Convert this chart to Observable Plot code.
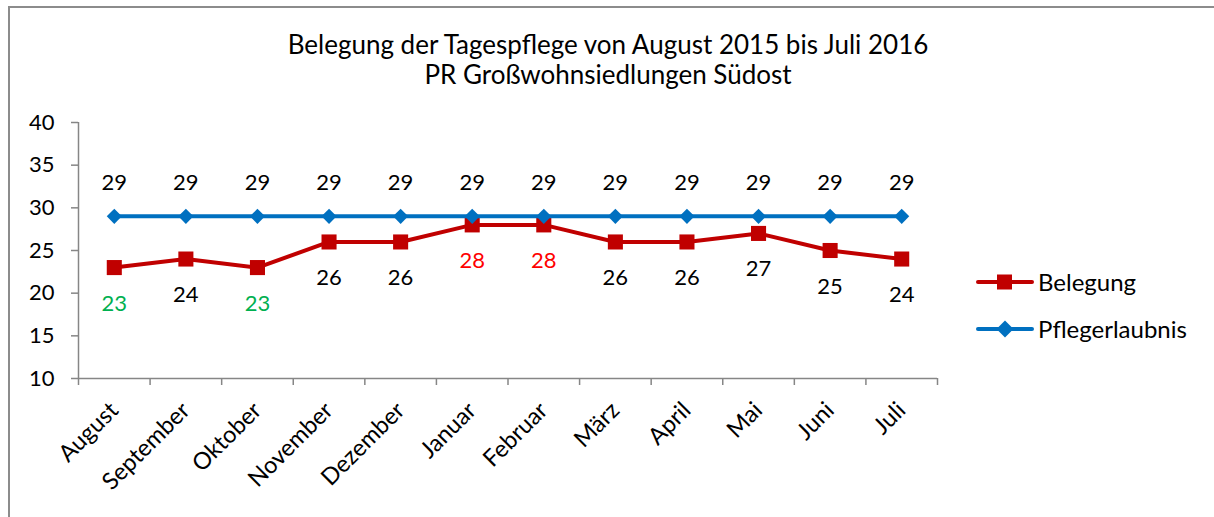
<!DOCTYPE html>
<html><head><meta charset="utf-8">
<script src="https://cdn.jsdelivr.net/npm/d3@7"></script>
<script src="https://cdn.jsdelivr.net/npm/@observablehq/plot@0.6"></script>
<style>
  html,body{margin:0;padding:0;background:#fff;}
  #wrap{position:relative;width:1214px;height:517px;overflow:hidden;font-family:Lato,"Open Sans",sans-serif;}
  #frame{position:absolute;left:8px;top:6px;width:1300px;height:600px;border:2px solid #8c8c8c;box-sizing:border-box;}
  .title{position:absolute;left:0;width:1216px;text-align:center;font-size:26px;line-height:30px;height:30px;color:#000;}
  #chart{position:absolute;left:0;top:0;}
  .leg{position:absolute;left:976px;font-size:24px;display:flex;align-items:center;color:#000;}
  .leg svg{margin-right:4px;}
</style>
</head><body>
<div id="wrap">
  <div id="frame"></div>
  <div id="chart"></div>
  <div class="title" style="top:29px">Belegung der Tagespflege von August 2015 bis Juli 2016</div>
  <div class="title" style="top:59px">PR Großwohnsiedlungen Südost</div>
  <div class="leg" style="top:267px"><svg width="58" height="24"><line x1="2" y1="12" x2="56" y2="12" stroke="#C00000" stroke-width="4" stroke-linecap="round"/><rect x="21" y="4.5" width="15" height="15" fill="#C00000"/></svg>Belegung</div>
  <div class="leg" style="top:314px"><svg width="58" height="24"><line x1="2" y1="12" x2="56" y2="12" stroke="#0070C0" stroke-width="4" stroke-linecap="round"/><polygon points="29,3.5 37.5,12 29,20.5 20.5,12" fill="#0070C0"/></svg>Pflegerlaubnis</div>
</div>
<script>
const months = ["August","September","Oktober","November","Dezember","Januar","Februar","März","April","Mai","Juni","Juli"];
const belegung = [23,24,23,26,26,28,28,26,26,27,25,24];
const pflegerlaubnis = [29,29,29,29,29,29,29,29,29,29,29,29];
const belegungLabelColor = ["#00B050","#000","#00B050","#000","#000","#FF0000","#FF0000","#000","#000","#000","#000","#000"];
const yTicks = [10,15,20,25,30,35,40];

const rowsB = months.map((m,i)=>({i:i+0.5, v:belegung[i], c:belegungLabelColor[i]}));
const rowsP = months.map((m,i)=>({i:i+0.5, v:pflegerlaubnis[i]}));
const bounds = d3.range(months.length+1);
const centers = months.map((m,i)=>i+0.5);

const chart = Plot.plot({
  width:1214, height:517,
  marginLeft:78, marginRight:277, marginTop:122, marginBottom:139,
  style:{fontFamily:"Lato, 'Open Sans', sans-serif", fontSize:"22px", color:"#000", background:"transparent"},
  x:{type:"linear", domain:[0,months.length], axis:null},
  y:{domain:[10,40], axis:null},
  marks:[
    Plot.axisY({ticks:yTicks, tickSize:7, tickPadding:17, stroke:"#868686", strokeWidth:1.5, fill:"#000", fontSize:22, label:null}),
    Plot.ruleX([0],{stroke:"#868686", strokeWidth:1.5}),
    Plot.ruleY([10],{stroke:"#868686", strokeWidth:1.5}),
    Plot.axisX({ticks:bounds, tickFormat:()=>"", tickSize:7, stroke:"#868686", strokeWidth:1.5, label:null}),
    Plot.axisX({ticks:centers, tickFormat:d=>months[Math.floor(d)], tickSize:0, tickPadding:28, tickRotate:-45, fontSize:23.5, fill:"#000", label:null}),
    Plot.line(rowsB,{x:"i", y:"v", stroke:"#C00000", strokeWidth:4}),
    Plot.dot(rowsB,{x:"i", y:"v", symbol:"square", r:8.5, fill:"#C00000", stroke:null}),
    Plot.line(rowsP,{x:"i", y:"v", stroke:"#0070C0", strokeWidth:4}),
    Plot.dot(rowsP,{x:"i", y:"v", symbol:"diamond2", r:6.8, fill:"#0070C0", stroke:null}),
    Plot.text(rowsP,{x:"i", y:"v", text:d=>String(d.v), dy:-33, fontSize:22, fill:"#000"}),
    Plot.text(rowsB,{x:"i", y:"v", text:d=>String(d.v), dy:36, fontSize:22, fill:"c"})
  ]
});
document.getElementById("chart").appendChild(chart);
</script>
</body></html>
